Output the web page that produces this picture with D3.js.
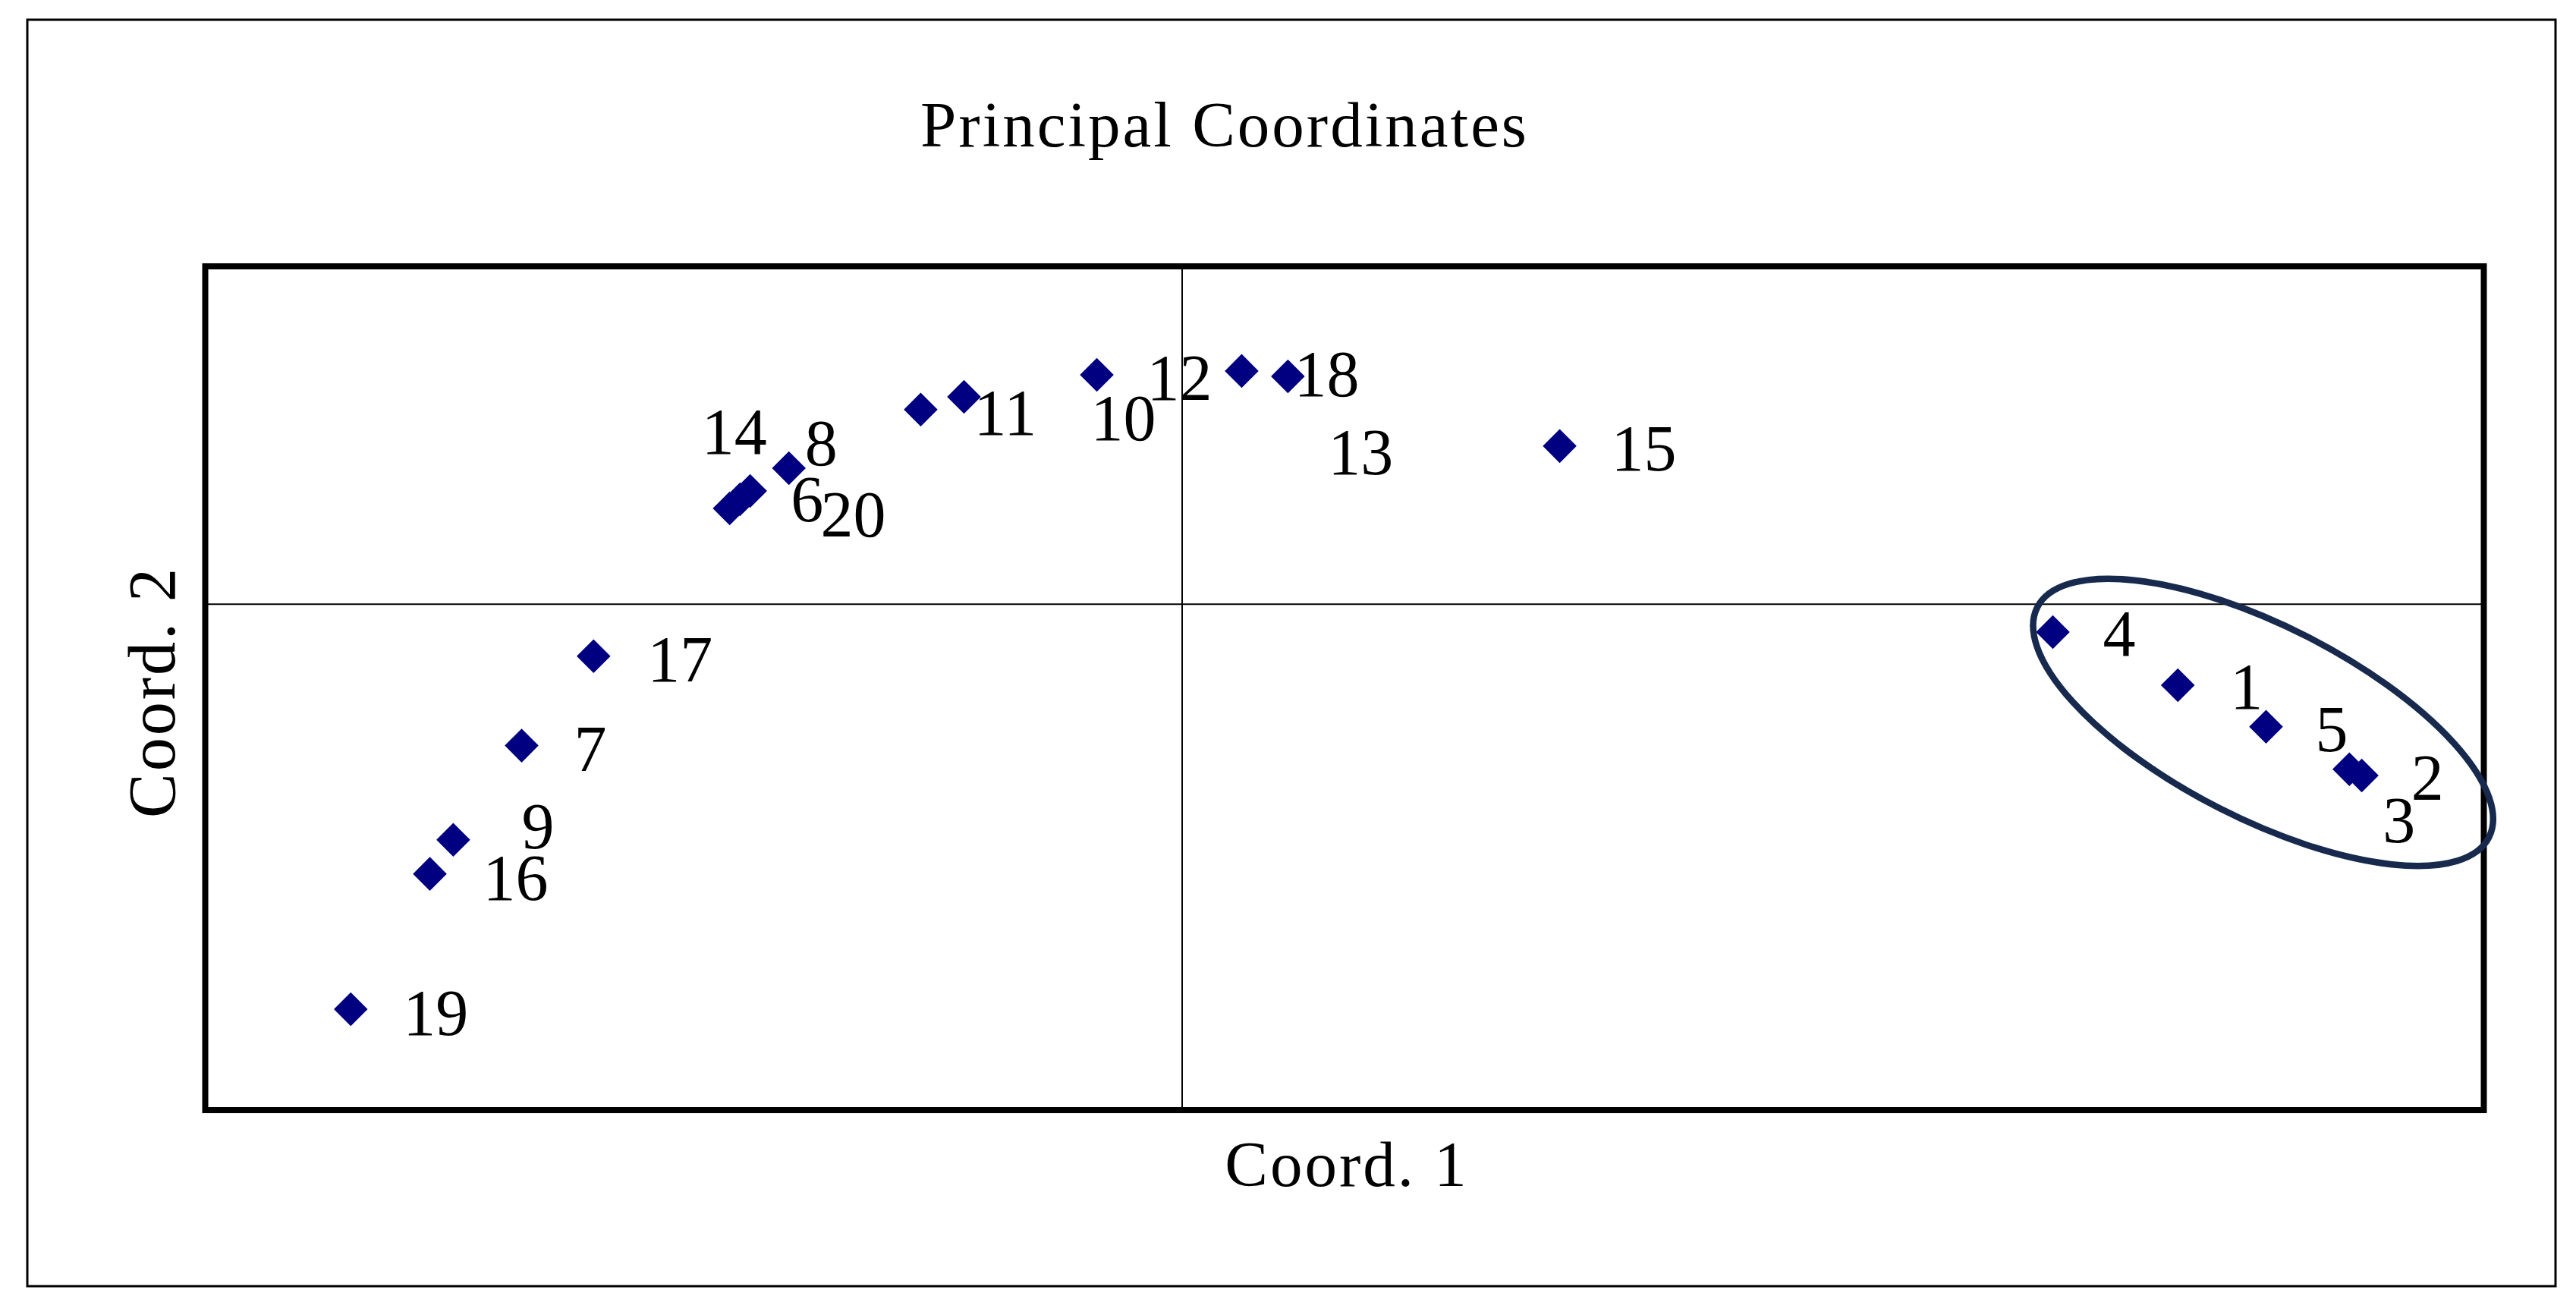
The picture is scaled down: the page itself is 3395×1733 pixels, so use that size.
<!DOCTYPE html>
<html>
<head>
<meta charset="utf-8">
<script src="https://cdn.jsdelivr.net/npm/d3@7"></script>
<style>
  html, body { margin: 0; padding: 0; background: #ffffff; }
  svg { display: block; }
  text { font-family: "Liberation Serif", "Times New Roman", serif; fill: #000; }
</style>
</head>
<body>
<svg id="chart" width="3395" height="1733"></svg>
<script>
// ---- data ----
const labels = ["1","2","3","4","5","6","7","8","9","10","11","12","13","14","15","16","17","18","19","20"];
const coord1 = [0.306, 0.3625, 0.3587, 0.2676, 0.3331, -0.1357, -0.2028, -0.1207, -0.2238, -0.0669, -0.0802, -0.0261, 0.0326, -0.1326, 0.1161, -0.2310, -0.1807, 0.0184, -0.2553, -0.1389];
const coord2 = [-0.0482, -0.1017, -0.0980, -0.0167, -0.0728, 0.0620, -0.0840, 0.0804, -0.1398, 0.1227, 0.1151, 0.1357, 0.1348, 0.0669, 0.0935, -0.1600, -0.0310, 0.1380, -0.2402, 0.0566];
// label offsets from each marker (px)
const labelDx = [69, 65, 44, 66, 65, 67, 69, 21, 90, 167, 70, 66, 53, -64, 68, 70, 71, 69, 69, 120];
const labelDy = [31, 32, 96, 31, 32, 29, 33, -4, 11, 57, 33, 33, 129, -49, 32, 34, 33, 33, 34, 37];
const xDomain = [-0.3, 0.4];
const yDomain = [-0.3, 0.2];
const groupCenter = [0.3322, -0.0702]; // highlighted cluster (points 1-5)

const titleText = "Principal Coordinates";
const xTitle = "Coord. 1";
const yTitle = "Coord. 2";

// ---- layout ----
const svg = d3.select("#chart");
const plot = {left: 270.5, right: 3273.5, top: 351, bottom: 1463};

const x = d3.scaleLinear().domain(xDomain).range([plot.left, plot.right]);
const y = d3.scaleLinear().domain(yDomain).range([plot.bottom, plot.top]);

// outer chart frame
svg.append("rect")
  .attr("x", 36).attr("y", 26).attr("width", 3368 - 36).attr("height", 1695 - 26)
  .attr("fill", "#fff").attr("stroke", "#000").attr("stroke-width", 3);

// title
svg.append("text")
  .attr("x", 1614).attr("y", 193)
  .attr("text-anchor", "middle")
  .attr("font-size", 85)
  .attr("letter-spacing", 3)
  .text(titleText);

// zero axes (cross lines) via d3 axes without ticks
svg.append("g")
  .attr("transform", `translate(0,${y(0)})`)
  .call(d3.axisBottom(x).tickValues([]).tickSizeOuter(0))
  .call(g => g.select(".domain").attr("stroke", "#000").attr("stroke-width", 2));
svg.append("g")
  .attr("transform", `translate(${x(0)},0)`)
  .call(d3.axisLeft(y).tickValues([]).tickSizeOuter(0))
  .call(g => g.select(".domain").attr("stroke", "#000").attr("stroke-width", 2));

// plot area border
svg.append("rect")
  .attr("x", plot.left).attr("y", plot.top)
  .attr("width", plot.right - plot.left).attr("height", plot.bottom - plot.top)
  .attr("fill", "none").attr("stroke", "#000").attr("stroke-width", 8);

// axis titles
svg.append("text")
  .attr("x", (plot.left + plot.right) / 2 + 3).attr("y", 1563)
  .attr("text-anchor", "middle")
  .attr("font-size", 85)
  .attr("letter-spacing", 3)
  .text(xTitle);
svg.append("text")
  .attr("transform", `translate(230,912) rotate(-90)`)
  .attr("text-anchor", "middle")
  .attr("font-size", 88)
  .attr("letter-spacing", 3)
  .text(yTitle);

// data
const pts = labels.map((l, i) => ({label: l, x: coord1[i], y: coord2[i], dx: labelDx[i], dy: labelDy[i]}));

const diamond = d3.symbol().type(d3.symbolSquare).size(31.5 * 31.5);
svg.append("g").selectAll("path")
  .data(pts)
  .join("path")
  .attr("d", diamond)
  .attr("transform", d => `translate(${x(d.x)},${y(d.y)}) rotate(45)`)
  .attr("fill", "#000080");

svg.append("g").selectAll("text")
  .data(pts)
  .join("text")
  .attr("x", d => x(d.x) + d.dx)
  .attr("y", d => y(d.y) + d.dy)
  .attr("font-size", 86)
  .text(d => d.label);

// ellipse around cluster 1-5
svg.append("ellipse")
  .attr("transform", `translate(${x(groupCenter[0])},${y(groupCenter[1])}) rotate(27)`)
  .attr("rx", 334).attr("ry", 127)
  .attr("fill", "none")
  .attr("stroke", "#172a4e")
  .attr("stroke-width", 8.5);
</script>
</body>
</html>
